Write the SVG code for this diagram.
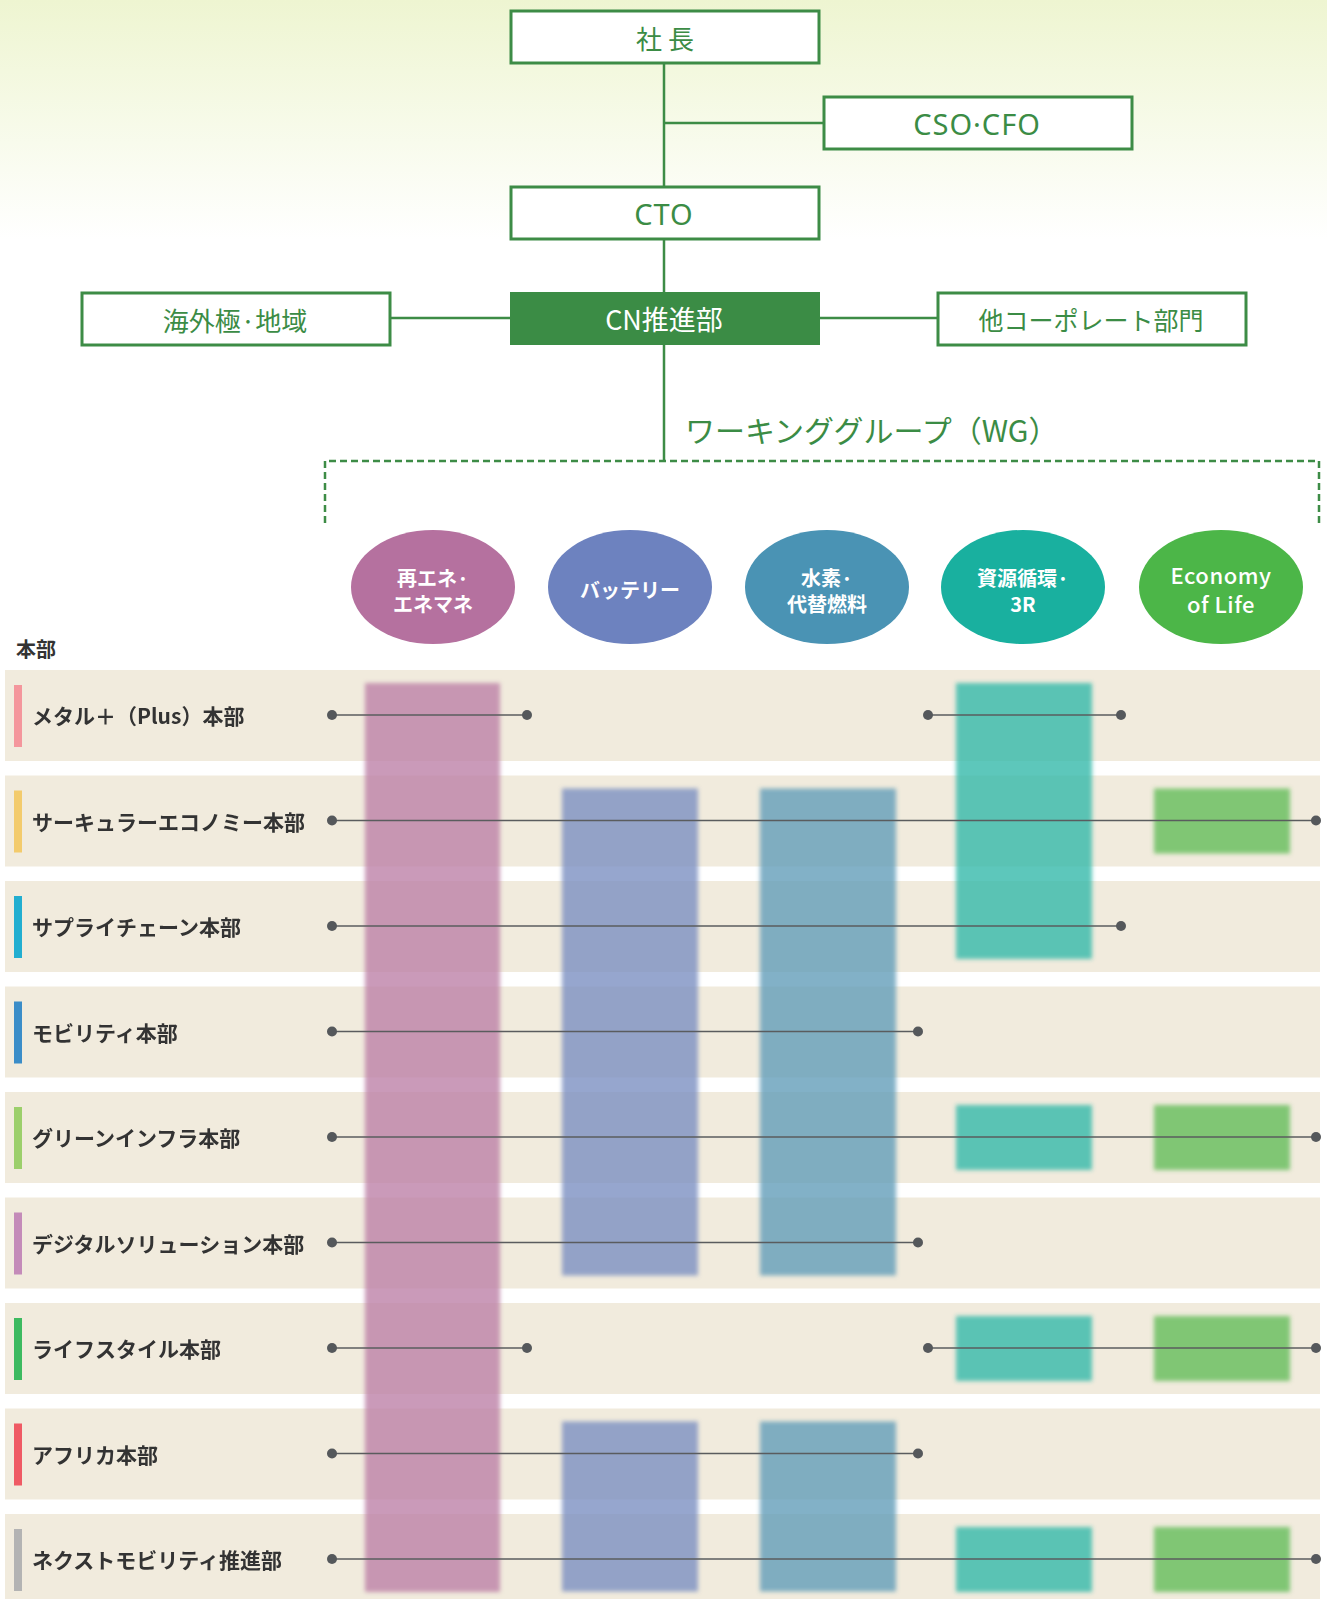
<svg xmlns="http://www.w3.org/2000/svg" width="1327" height="1599" viewBox="0 0 1327 1599">
<defs>
<linearGradient id="bg" x1="0" y1="0" x2="0" y2="1">
<stop offset="0" stop-color="#eef5d1"/>
<stop offset="1" stop-color="#ffffff"/>
</linearGradient>
<filter id="blur" x="-10%" y="-10%" width="120%" height="120%">
<feGaussianBlur stdDeviation="2.2"/>
</filter>
<style>
.box{fill:#ffffff;stroke:#3d8c46;stroke-width:3}
.boxf{fill:#3b8c45}
.gl{stroke:#3d8c46;stroke-width:2.5;fill:none}
.dash{stroke:#3d8c46;stroke-width:2.5;fill:none;stroke-dasharray:7 4}
.bt{font-family:"Noto Sans CJK JP","Noto Sans",sans-serif;font-size:25px;fill:#3b8c45;text-anchor:middle;dominant-baseline:central}
.lt{font-family:"Noto Sans","Noto Sans CJK JP",sans-serif;font-size:29px;letter-spacing:1px;fill:#3b8c45;text-anchor:middle;dominant-baseline:central}
.wg{font-family:"Noto Sans CJK JP","Noto Sans",sans-serif;font-size:30px;fill:#3b8c45;dominant-baseline:central}
.et{font-family:"Noto Sans CJK JP","Noto Sans",sans-serif;font-size:20px;font-weight:700;fill:#ffffff;text-anchor:middle;dominant-baseline:central}
.band{fill:#f1ebdd}
.lbl{font-family:"Noto Sans CJK JP","Noto Sans",sans-serif;font-size:21px;font-weight:700;fill:#333333;dominant-baseline:central}
.hd{font-family:"Noto Sans CJK JP","Noto Sans",sans-serif;font-size:20px;font-weight:700;fill:#333333;dominant-baseline:central}
.ln{stroke:#5a5c5e;stroke-width:1.6;fill:none}
.dot{fill:#55585b}
.pk{fill:#bd81a7;opacity:0.8}
.bl{fill:#7c90c2;opacity:0.8}
.tl{fill:#619eb9;opacity:0.8}
.gt{fill:#32b9aa;opacity:0.8}
.gr{fill:#64bd5a;opacity:0.8}
</style>
</defs>
<rect x="0" y="0" width="1327" height="240" fill="url(#bg)"/>

<g id="connectors">
<line class="gl" x1="664" y1="64" x2="664" y2="461"/>
<line class="gl" x1="664" y1="123" x2="823" y2="123"/>
<line class="gl" x1="390" y1="318" x2="510" y2="318"/>
<line class="gl" x1="819" y1="318" x2="937" y2="318"/>
<path class="dash" d="M325,523 V461 H1319 V523"/>
</g>

<g id="president"><rect class="box" x="511" y="11" width="308" height="52"/><text class="bt" x="665" y="37" style="font-size:26px">社 長</text></g>
<g id="cso-cfo"><rect class="box" x="824" y="97" width="308" height="52"/><text class="lt" x="977" y="123">CSO·CFO</text></g>
<g id="cto"><rect class="box" x="511" y="187" width="308" height="52"/><text class="lt" x="664" y="213">CTO</text></g>
<g id="cn"><rect class="boxf" x="510" y="292" width="310" height="53"/><text class="bt" x="664" y="318" style="fill:#ffffff;font-size:27px">CN推進部</text></g>
<g id="overseas"><rect class="box" x="82" y="293" width="308" height="52"/><text class="bt" x="235" y="319" style="font-size:26px">海外極·地域</text></g>
<g id="corporate"><rect class="box" x="938" y="293" width="308" height="52"/><text class="bt" x="1091" y="319">他コーポレート部門</text></g>
<g id="wg-label"><text class="wg" x="685" y="429">ワーキンググループ（WG）</text></g>

<g id="wg1"><ellipse cx="433" cy="587" rx="82" ry="57" fill="#b5719f"/><text class="et" x="433" y="577">再エネ·</text><text class="et" x="433" y="603">エネマネ</text></g>
<g id="wg2"><ellipse cx="630" cy="587" rx="82" ry="57" fill="#6d82bf"/><text class="et" x="630" y="589">バッテリー</text></g>
<g id="wg3"><ellipse cx="827" cy="587" rx="82" ry="57" fill="#4a93b4"/><text class="et" x="827" y="577">水素·</text><text class="et" x="827" y="603">代替燃料</text></g>
<g id="wg4"><ellipse cx="1023" cy="587" rx="82" ry="57" fill="#19b09f"/><text class="et" x="1023" y="577">資源循環·</text><text class="et" x="1023" y="603">3R</text></g>
<g id="wg5"><ellipse cx="1221" cy="587" rx="82" ry="57" fill="#4cb648"/><text class="et" x="1221" y="574" style="font-size:22px;font-weight:500;letter-spacing:0.5px">Economy</text><text class="et" x="1221" y="603" style="font-size:22px;font-weight:500;letter-spacing:0.5px">of Life</text></g>

<text class="hd" x="16" y="648">本部</text>

<g id="bands">
<rect class="band" x="5" y="670" width="1315" height="91"/>
<rect class="band" x="5" y="775.5" width="1315" height="91"/>
<rect class="band" x="5" y="881" width="1315" height="91"/>
<rect class="band" x="5" y="986.5" width="1315" height="91"/>
<rect class="band" x="5" y="1092" width="1315" height="91"/>
<rect class="band" x="5" y="1197.5" width="1315" height="91"/>
<rect class="band" x="5" y="1303" width="1315" height="91"/>
<rect class="band" x="5" y="1408.5" width="1315" height="91"/>
<rect class="band" x="5" y="1514" width="1315" height="91"/>
</g>

<g id="bars" filter="url(#blur)">
<rect class="pk" x="365" y="683" width="135" height="909"/>
<rect class="bl" x="562" y="788.5" width="136" height="487"/>
<rect class="bl" x="562" y="1421.5" width="136" height="170"/>
<rect class="tl" x="760" y="788.5" width="136" height="487"/>
<rect class="tl" x="760" y="1421.5" width="136" height="170"/>
<rect class="gt" x="956" y="683" width="136" height="276"/>
<rect class="gt" x="956" y="1105" width="136" height="65"/>
<rect class="gt" x="956" y="1316" width="136" height="65"/>
<rect class="gt" x="956" y="1527" width="136" height="65"/>
<rect class="gr" x="1154" y="788.5" width="136" height="65"/>
<rect class="gr" x="1154" y="1105" width="136" height="65"/>
<rect class="gr" x="1154" y="1316" width="136" height="65"/>
<rect class="gr" x="1154" y="1527" width="136" height="65"/>
</g>

<g id="row1"><rect x="14" y="685" width="8" height="62" fill="#f4969c"/><text class="lbl" x="32" y="715">メタル＋（Plus）本部</text></g>
<g id="row2"><rect x="14" y="790.5" width="8" height="62" fill="#f3cb6c"/><text class="lbl" x="32" y="820.5">サーキュラーエコノミー本部</text></g>
<g id="row3"><rect x="14" y="896" width="8" height="62" fill="#22aed0"/><text class="lbl" x="32" y="926">サプライチェーン本部</text></g>
<g id="row4"><rect x="14" y="1001.5" width="8" height="62" fill="#3b8dc8"/><text class="lbl" x="32" y="1031.5">モビリティ本部</text></g>
<g id="row5"><rect x="14" y="1107" width="8" height="62" fill="#9ccf6b"/><text class="lbl" x="32" y="1137">グリーンインフラ本部</text></g>
<g id="row6"><rect x="14" y="1212.5" width="8" height="62" fill="#c48bb9"/><text class="lbl" x="32" y="1242.5">デジタルソリューション本部</text></g>
<g id="row7"><rect x="14" y="1318" width="8" height="62" fill="#3dba60"/><text class="lbl" x="32" y="1348">ライフスタイル本部</text></g>
<g id="row8"><rect x="14" y="1423.5" width="8" height="62" fill="#ef5a64"/><text class="lbl" x="32" y="1453.5">アフリカ本部</text></g>
<g id="row9"><rect x="14" y="1529" width="8" height="62" fill="#b3b3b3"/><text class="lbl" x="32" y="1559">ネクストモビリティ推進部</text></g>

<g id="links">
<line class="ln" x1="332" y1="715" x2="527" y2="715"/><circle class="dot" cx="332" cy="715" r="5"/><circle class="dot" cx="527" cy="715" r="5"/>
<line class="ln" x1="928" y1="715" x2="1121" y2="715"/><circle class="dot" cx="928" cy="715" r="5"/><circle class="dot" cx="1121" cy="715" r="5"/>
<line class="ln" x1="332" y1="820.5" x2="1316" y2="820.5"/><circle class="dot" cx="332" cy="820.5" r="5"/><circle class="dot" cx="1316" cy="820.5" r="5"/>
<line class="ln" x1="332" y1="926" x2="1121" y2="926"/><circle class="dot" cx="332" cy="926" r="5"/><circle class="dot" cx="1121" cy="926" r="5"/>
<line class="ln" x1="332" y1="1031.5" x2="918" y2="1031.5"/><circle class="dot" cx="332" cy="1031.5" r="5"/><circle class="dot" cx="918" cy="1031.5" r="5"/>
<line class="ln" x1="332" y1="1137" x2="1316" y2="1137"/><circle class="dot" cx="332" cy="1137" r="5"/><circle class="dot" cx="1316" cy="1137" r="5"/>
<line class="ln" x1="332" y1="1242.5" x2="918" y2="1242.5"/><circle class="dot" cx="332" cy="1242.5" r="5"/><circle class="dot" cx="918" cy="1242.5" r="5"/>
<line class="ln" x1="332" y1="1348" x2="527" y2="1348"/><circle class="dot" cx="332" cy="1348" r="5"/><circle class="dot" cx="527" cy="1348" r="5"/>
<line class="ln" x1="928" y1="1348" x2="1316" y2="1348"/><circle class="dot" cx="928" cy="1348" r="5"/><circle class="dot" cx="1316" cy="1348" r="5"/>
<line class="ln" x1="332" y1="1453.5" x2="918" y2="1453.5"/><circle class="dot" cx="332" cy="1453.5" r="5"/><circle class="dot" cx="918" cy="1453.5" r="5"/>
<line class="ln" x1="332" y1="1559" x2="1316" y2="1559"/><circle class="dot" cx="332" cy="1559" r="5"/><circle class="dot" cx="1316" cy="1559" r="5"/>
</g>
</svg>
